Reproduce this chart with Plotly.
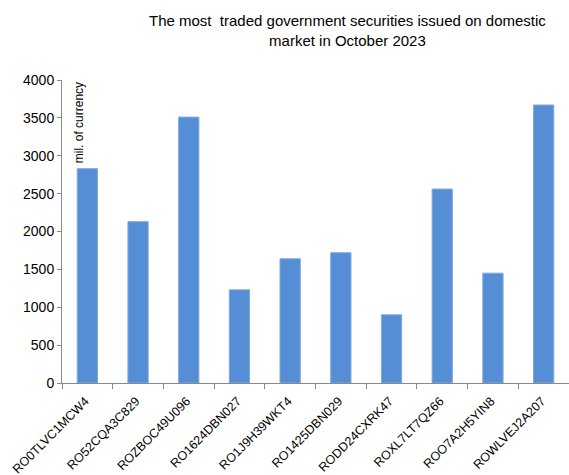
import plotly.graph_objects as go

# Securities (ISIN codes) and traded volumes, mil. of currency
securities = [
    "RO0TLVC1MCW4", "RO52CQA3C829", "ROZBOC49U096", "RO1624DBN027",
    "RO1J9H39WKT4", "RO1425DBN029", "RODD24CXRK47", "ROXL7LT7QZ66",
    "ROO7A2H5YIN8", "ROWLVEJ2A207",
]
volumes = [2830, 2130, 3510, 1230, 1640, 1720, 900, 2560, 1450, 3670]

y_ticks = [0, 500, 1000, 1500, 2000, 2500, 3000, 3500, 4000]

font_family = "Liberation Sans, Arial, sans-serif"
axis_gray = "#898989"

fig = go.Figure(
    go.Bar(
        x=securities,
        y=volumes,
        width=0.4,
        marker=dict(color="#558ed5", line=dict(color="#7fa9e0", width=1)),
    )
)

fig.update_layout(
    width=569,
    height=475,
    margin=dict(l=62, r=0, t=80, b=92),
    paper_bgcolor="white",
    plot_bgcolor="white",
    showlegend=False,
    font=dict(family=font_family, size=13, color="#000000"),
    bargap=0.6,
)

fig.update_xaxes(
    type="category",
    automargin=False,
    tickangle=-45,
    tickson="boundaries",
    ticks="outside",
    ticklen=5,
    tickcolor=axis_gray,
    showline=True,
    linecolor=axis_gray,
    linewidth=1,
    showgrid=False,
    ticklabelstandoff=5,
    ticklabelshift=-2,
    tickfont=dict(family=font_family, size=12.5, color="#000000"),
)

fig.update_yaxes(
    range=[0, 4000],
    automargin=False,
    tickvals=y_ticks,
    ticktext=[str(v) for v in y_ticks],
    ticks="outside",
    ticklen=4,
    tickcolor=axis_gray,
    showline=True,
    linecolor=axis_gray,
    linewidth=1,
    showgrid=False,
    zeroline=False,
    tickfont=dict(family=font_family, size=14, color="#000000"),
)

# Chart title (two centred lines above the plot area)
fig.add_annotation(
    text="The most  traded government securities issued on domestic<br>market in October 2023",
    xref="paper",
    yref="paper",
    x=(347 - 62) / 507,
    y=1 + (80 - 30) / 303,
    xanchor="center",
    yanchor="middle",
    align="center",
    showarrow=False,
    font=dict(family=font_family, size=15, color="#000000"),
)

# Unit label inside the plot area, next to the axis
fig.add_annotation(
    text="mil. of currency",
    textangle=-90,
    xref="paper",
    yref="paper",
    x=0.033,
    y=1.0,
    xanchor="center",
    yanchor="top",
    showarrow=False,
    font=dict(family=font_family, size=12, color="#000000"),
)

fig.write_html("out.html")
